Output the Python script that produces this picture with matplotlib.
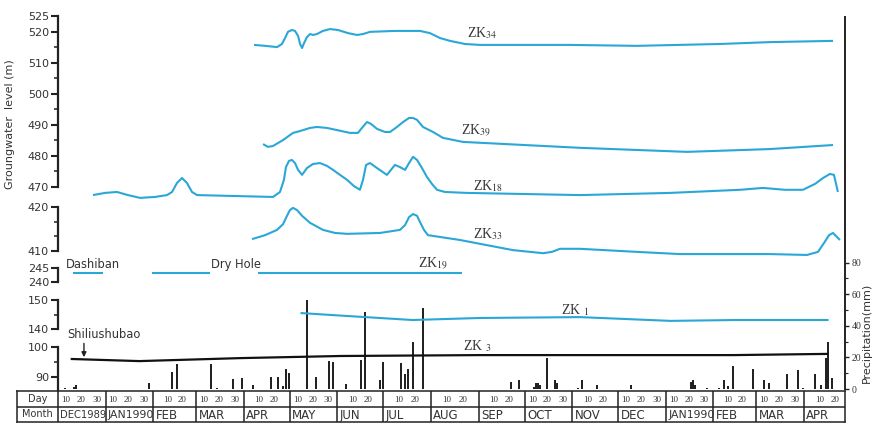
import numpy as np
import matplotlib
matplotlib.use("Agg")
import matplotlib.pyplot as plt
from matplotlib.ticker import FixedLocator

plt.rcParams["mathtext.fontset"] = "stix"
plt.rcParams["font.family"] = "DejaVu Sans"

# ---------------- data ----------------
# time is counted in days from 1 December 1989
month_names = ["DEC1989", "JAN1990", "FEB", "MAR", "APR", "MAY", "JUN", "JUL", "AUG",
               "SEP", "OCT", "NOV", "DEC", "JAN1990", "FEB", "MAR", "APR"]
month_days = [31, 31, 28, 31, 30, 31, 30, 31, 31, 30, 31, 30, 31, 31, 28, 31, 30]
day_labels = [["10", "20", "30"], ["10", "20", "30"], ["10", "20"], ["10", "20", "30"],
              ["10", "20"], ["10", "20", "30"], ["10", "20"], ["10", "20"], ["10", "20"],
              ["10", "20"], ["10", "20", "30"], ["10", "20"], ["10", "20", "30"],
              ["10", "20", "30"], ["10", "20"], ["10", "20", "30"], ["10", "20"]]

# groundwater levels (m)
t_zk34 = [127.7, 134.9, 142.7, 145.9, 147.9, 149.8, 152.4, 154.4, 156.4, 157.7, 159.0,
          160.3, 162.2, 164.2, 166.1, 168.7, 172.6, 177.2, 182.4, 188.9, 194.8, 198.7,
          203.3, 219.5, 235.8, 242.3, 248.9, 255.4, 265.1, 274.9, 333.6, 377.2, 431.3,
          463.8, 504.9]
h_zk34 = [515.7, 515.4, 515.0, 516.0, 517.9, 519.9, 520.5, 520.2, 518.6, 516.0, 514.7,
          516.3, 518.2, 519.2, 518.9, 519.2, 520.2, 520.8, 520.5, 519.5, 518.9, 519.2,
          519.9, 520.2, 520.2, 519.5, 517.9, 517.0, 516.0, 515.7, 515.7, 515.4, 516.0,
          516.6, 517.0]

t_zk39 = [133.6, 136.8, 140.1, 146.6, 153.1, 157.7, 164.2, 168.7, 175.2, 181.8, 190.2,
          195.4, 198.0, 201.3, 203.9, 207.8, 213.0, 216.3, 220.8, 224.8, 228.7, 231.3,
          233.9, 237.8, 244.3, 250.8, 263.8, 340.1, 409.8, 463.8, 504.9]
h_zk39 = [483.8, 482.9, 483.2, 485.1, 487.4, 488.0, 489.0, 489.3, 489.0, 488.3, 487.4,
          487.4, 489.0, 490.9, 490.3, 488.7, 487.7, 487.7, 489.3, 490.9, 492.2, 492.2,
          491.6, 489.3, 487.7, 485.8, 484.5, 482.6, 481.3, 482.2, 483.5]

t_zk18 = [22.8, 30.6, 38.4, 45.6, 53.4, 63.2, 71.0, 74.3, 77.5, 80.8, 84.0, 87.3, 90.6,
          140.1, 144.6, 147.2, 148.5, 150.5, 152.4, 154.4, 156.4, 159.0, 162.2, 166.1,
          170.7, 175.2, 179.2, 183.7, 188.3, 192.8, 196.7, 198.7, 200.7, 203.3, 207.8,
          214.3, 216.9, 219.5, 222.8, 226.1, 228.7, 231.3, 233.9, 237.1, 240.4, 243.6,
          246.9, 252.1, 266.4, 340.1, 398.7, 444.3, 459.3, 473.6, 485.3, 493.2, 498.4,
          502.9, 505.5, 508.1]
h_zk18 = [467.4, 468.1, 468.4, 467.4, 466.5, 466.8, 467.4, 468.4, 471.3, 472.9, 471.3,
          468.4, 467.4, 466.8, 468.4, 472.3, 476.4, 478.4, 478.7, 477.7, 475.5, 473.9,
          476.1, 477.4, 477.7, 476.8, 475.5, 473.9, 472.3, 470.3, 469.1, 472.3, 477.1,
          477.7, 476.1, 473.9, 475.5, 477.1, 476.4, 475.5, 477.7, 479.7, 478.7, 476.1,
          473.2, 471.0, 469.1, 468.4, 468.1, 467.4, 468.1, 469.1, 469.7, 469.1, 469.1,
          471.0, 472.9, 474.2, 473.9, 468.4]

t_zk33 = [126.4, 134.9, 142.7, 146.6, 149.2, 151.1, 153.1, 155.7, 159.0, 164.2, 172.6,
          180.5, 188.3, 209.8, 222.8, 226.1, 228.7, 231.3, 233.9, 235.8, 238.4, 241.0,
          261.9, 296.4, 316.0, 321.8, 327.0, 340.1, 377.2, 405.2, 463.8, 488.0, 495.1,
          499.0, 502.3, 504.9, 509.4]
h_zk33 = [412.7, 413.6, 414.8, 416.1, 418.0, 419.3, 419.8, 419.3, 418.0, 416.4, 414.8,
          414.1, 413.9, 414.1, 414.8, 415.9, 417.7, 418.4, 418.0, 416.6, 414.8, 413.6,
          412.5, 410.2, 409.5, 409.8, 410.5, 410.5, 409.8, 409.3, 409.3, 409.1, 409.8,
          411.8, 413.6, 414.1, 412.5]

# ZK19 / Dashiban / dry hole: observed spans at a constant level
zk19_start = [10, 61, 130]
zk19_end = [29, 99, 263]
zk19_level = 243.2

t_zk1 = [158, 188, 231, 275, 340, 399, 442, 502]
h_zk1 = [145.5, 144.5, 143.1, 143.8, 144.1, 142.8, 143.1, 143.1]

t_zk3 = [9, 53, 119, 184, 275, 373, 440, 501]
h_zk3 = [96.0, 95.3, 96.3, 97.0, 97.3, 97.3, 97.3, 97.7]

# daily precipitation (mm)
p_day = [4.6, 10.4, 11.7, 59.3, 74.3, 77.5, 99.7, 103.6, 114.0, 119.9, 127.0, 138.8,
         143.3, 146.6, 148.5, 150.5, 162.2, 168.1, 176.5, 179.2, 187.6, 197.4, 200.0,
         209.8, 211.7, 223.5, 226.1, 228.0, 231.3, 237.8, 295.1, 300.3, 310.1, 311.4,
         312.7, 314.0, 318.6, 323.8, 325.1, 338.8, 341.4, 351.1, 373.3, 412.4, 413.7,
         415.0, 422.8, 430.6, 433.9, 436.5, 439.7, 452.8, 459.9, 463.2, 474.9, 482.1,
         485.3, 493.2, 497.1, 500.3, 501.6, 504.2]
p_mm = [0.6, 1.3, 2.5, 3.8, 10.8, 15.8, 15.8, 0.6, 6.3, 7.0, 2.5, 7.6,
        7.6, 1.9, 12.7, 10.1, 56.3, 7.6, 17.7, 17.1, 3.2, 18.4, 48.7,
        5.7, 17.1, 16.5, 9.5, 12.7, 29.7, 51.3, 4.4, 5.7, 1.3, 3.8,
        3.8, 2.5, 19.6, 5.7, 3.8, 0.6, 5.7, 2.5, 2.5, 4.4, 5.7,
        2.5, 0.6, 0.6, 5.7, 1.9, 14.6, 12.7, 5.7, 3.8, 9.5, 12.0,
        0.6, 9.5, 2.5, 19.6, 29.7, 7.0]

# ---------------- layout ----------------
W, H = 873, 423
fig = plt.figure(figsize=(W / 100, H / 100), dpi=100)
fig.patch.set_facecolor("white")

X0, X1 = 58, 845            # pixel extent of the time axis
PX_PER_DAY = 1.535
T0, T1 = 0.0, (X1 - X0) / PX_PER_DAY

BLUE = "#2aa7d7"
INK = "#222222"
TXT = "#333333"


def px_axes(x0, x1, ytop, ybot, z=1):
    ax = fig.add_axes([x0 / W, 1 - ybot / H, (x1 - x0) / W, (ybot - ytop) / H], zorder=z)
    ax.patch.set_alpha(0)
    return ax


def level_axes(v_hi, y_hi, v_lo, y_lo, lo, hi, major, minor, spine_lo=None):
    k = (y_lo - y_hi) / (v_hi - v_lo)
    ytop = y_hi - (hi - v_hi) * k
    ybot = y_lo + (v_lo - lo) * k
    ax = px_axes(X0, X1, ytop, ybot, z=2)
    ax.set_xlim(T0, T1)
    ax.set_ylim(lo, hi)
    for s in ("top", "right", "bottom"):
        ax.spines[s].set_visible(False)
    sp = ax.spines["left"]
    sp.set_bounds(spine_lo if spine_lo is not None else v_lo, v_hi)
    sp.set_linewidth(1.6)
    sp.set_color(INK)
    ax.set_xticks([])
    ax.yaxis.set_major_locator(FixedLocator(major))
    ax.yaxis.set_minor_locator(FixedLocator(minor))
    ax.tick_params(axis="y", which="major", length=5, width=1.5, color=INK,
                   labelsize=8, labelcolor=TXT, pad=1.5)
    ax.tick_params(axis="y", which="minor", length=3, width=1.1, color=INK)
    return ax


# precipitation axis (right side, full height)
axp = px_axes(X0, X1, 17, 389, z=1)
axp.set_xlim(T0, T1)
axp.set_ylim(0, (389 - 17) / 1.58)
for s in ("top", "left", "bottom"):
    axp.spines[s].set_visible(False)
axp.spines["right"].set_linewidth(1.4)
axp.spines["right"].set_color(INK)
axp.set_xticks([])
axp.yaxis.tick_right()
axp.yaxis.set_major_locator(FixedLocator([0, 20, 40, 60, 80]))
axp.yaxis.set_minor_locator(FixedLocator([10, 30, 50, 70]))
axp.tick_params(axis="y", which="major", length=3, width=1, color=INK,
                labelsize=7, labelcolor=TXT, pad=1.5)
axp.tick_params(axis="y", which="minor", length=2, width=0.8, color=INK)
for lab in axp.get_yticklabels():
    lab.set_family("Liberation Serif")
axp.bar(p_day, p_mm, width=0.75, color=INK, linewidth=0)

# groundwater level bands
ax_a = level_axes(525, 16, 470, 187, 465, 526,
                  [470, 480, 490, 500, 510, 520, 525], [475, 485, 495, 505, 515])
ax_b = level_axes(420, 207, 410, 251, 407.5, 421.5, [410, 420], [413.3, 416.7])
ax_c = level_axes(245, 268, 240, 282, 238.5, 247, [240, 245], [])
ax_d = level_axes(150, 300, 140, 329, 137, 152, [140, 150], [145])
ax_e = level_axes(100, 347, 90, 377, 85.6, 102, [90, 100], [95], spine_lo=85.6)

line_kw = dict(color=BLUE, lw=1.5, solid_joinstyle="round", solid_capstyle="butt")
ax_a.plot(t_zk34, h_zk34, **line_kw)
ax_a.plot(t_zk39, h_zk39, **line_kw)
ax_a.plot(t_zk18, h_zk18, **line_kw)
ax_b.plot(t_zk33, h_zk33, **line_kw)
ax_c.hlines([zk19_level] * len(zk19_start), zk19_start, zk19_end, colors=BLUE, lw=1.5)
ax_d.plot(t_zk1, h_zk1, **line_kw)
ax_e.plot(t_zk3, h_zk3, color="#111111", lw=1.6)

# series labels
lab_kw = dict(family="Liberation Serif", fontsize=10, color=TXT, ha="center", va="center")
ax_a.text(276, 519.5, r"ZK$_{34}$", **lab_kw)
ax_a.text(272, 488.0, r"ZK$_{39}$", **lab_kw)
ax_a.text(280, 470.3, r"ZK$_{18}$", **lab_kw)
ax_b.text(280, 413.9, r"ZK$_{33}$", **lab_kw)
ax_c.text(244, 246.4, r"ZK$_{19}$", **lab_kw)
ax_d.text(337, 146.6, r"ZK $_{1}$", **lab_kw)
ax_e.text(273, 100.3, r"ZK $_{3}$", **lab_kw)

name_kw = dict(fontsize=8.3, color=TXT, va="center", ha="left")
ax_c.text(5.2, 246.4, "Dashiban", **name_kw)
ax_c.text(99.7, 246.4, "Dry Hole", **name_kw)
ax_e.text(5.9, 104.3, "Shiliushubao", **name_kw)
ax_e.annotate("", xy=(16.9, 96.6), xytext=(16.9, 101.2),
              arrowprops=dict(arrowstyle="-|>", color=INK, lw=1, mutation_scale=7,
                              shrinkA=0, shrinkB=0))

# axis titles
fig.text(10 / W, 1 - 124 / H, "Groungwater  level (m)", rotation=90, fontsize=8,
         color=TXT, ha="center", va="center")
fig.text(867 / W, 1 - 333 / H, "Precipitation(mm)", rotation=90, fontsize=8,
         color=TXT, ha="center", va="center")

# ---------------- date table ----------------
axt = px_axes(17, 845, 391, 422, z=3)
axt.set_xlim((17 - X0) / PX_PER_DAY, T1)
axt.set_ylim(0, 2)
axt.set_xticks([])
axt.set_yticks([])
for s in axt.spines.values():
    s.set_linewidth(1.1)
    s.set_color(INK)
starts = np.concatenate([[0], np.cumsum(month_days)[:-1]])
axt.vlines(starts, 0, 2, colors=INK, lw=1.1)
axt.hlines(1, axt.get_xlim()[0], T1, colors=INK, lw=1.1)
head_x = ((17 - X0) / PX_PER_DAY) / 2
axt.text(head_x, 1.5, "Day", fontsize=7, color=TXT, ha="center", va="center")
axt.text(head_x, 0.5, "Month", fontsize=7, color=TXT, ha="center", va="center")

for name, start, ndays, labels in zip(month_names, starts, month_days, day_labels):
    size = 7.2 if name == "DEC1989" else (7.8 if name.startswith("JAN") else 8.5)
    axt.text(start + 1.5, 0.45, name, fontsize=size, color=TXT, ha="left", va="center")
    if len(labels) == 3:
        pos = [start + ndays * f for f in (0.16, 0.48, 0.81)]
    else:
        pos = [start + ndays * f for f in (0.33, 0.67)]
    for p, s in zip(pos, labels):
        if p < T1:
            axt.text(p, 1.45, s, fontsize=6.5, family="Liberation Serif", color=TXT,
                     ha="center", va="center")

fig.savefig("out.png", dpi=100, facecolor="white")
